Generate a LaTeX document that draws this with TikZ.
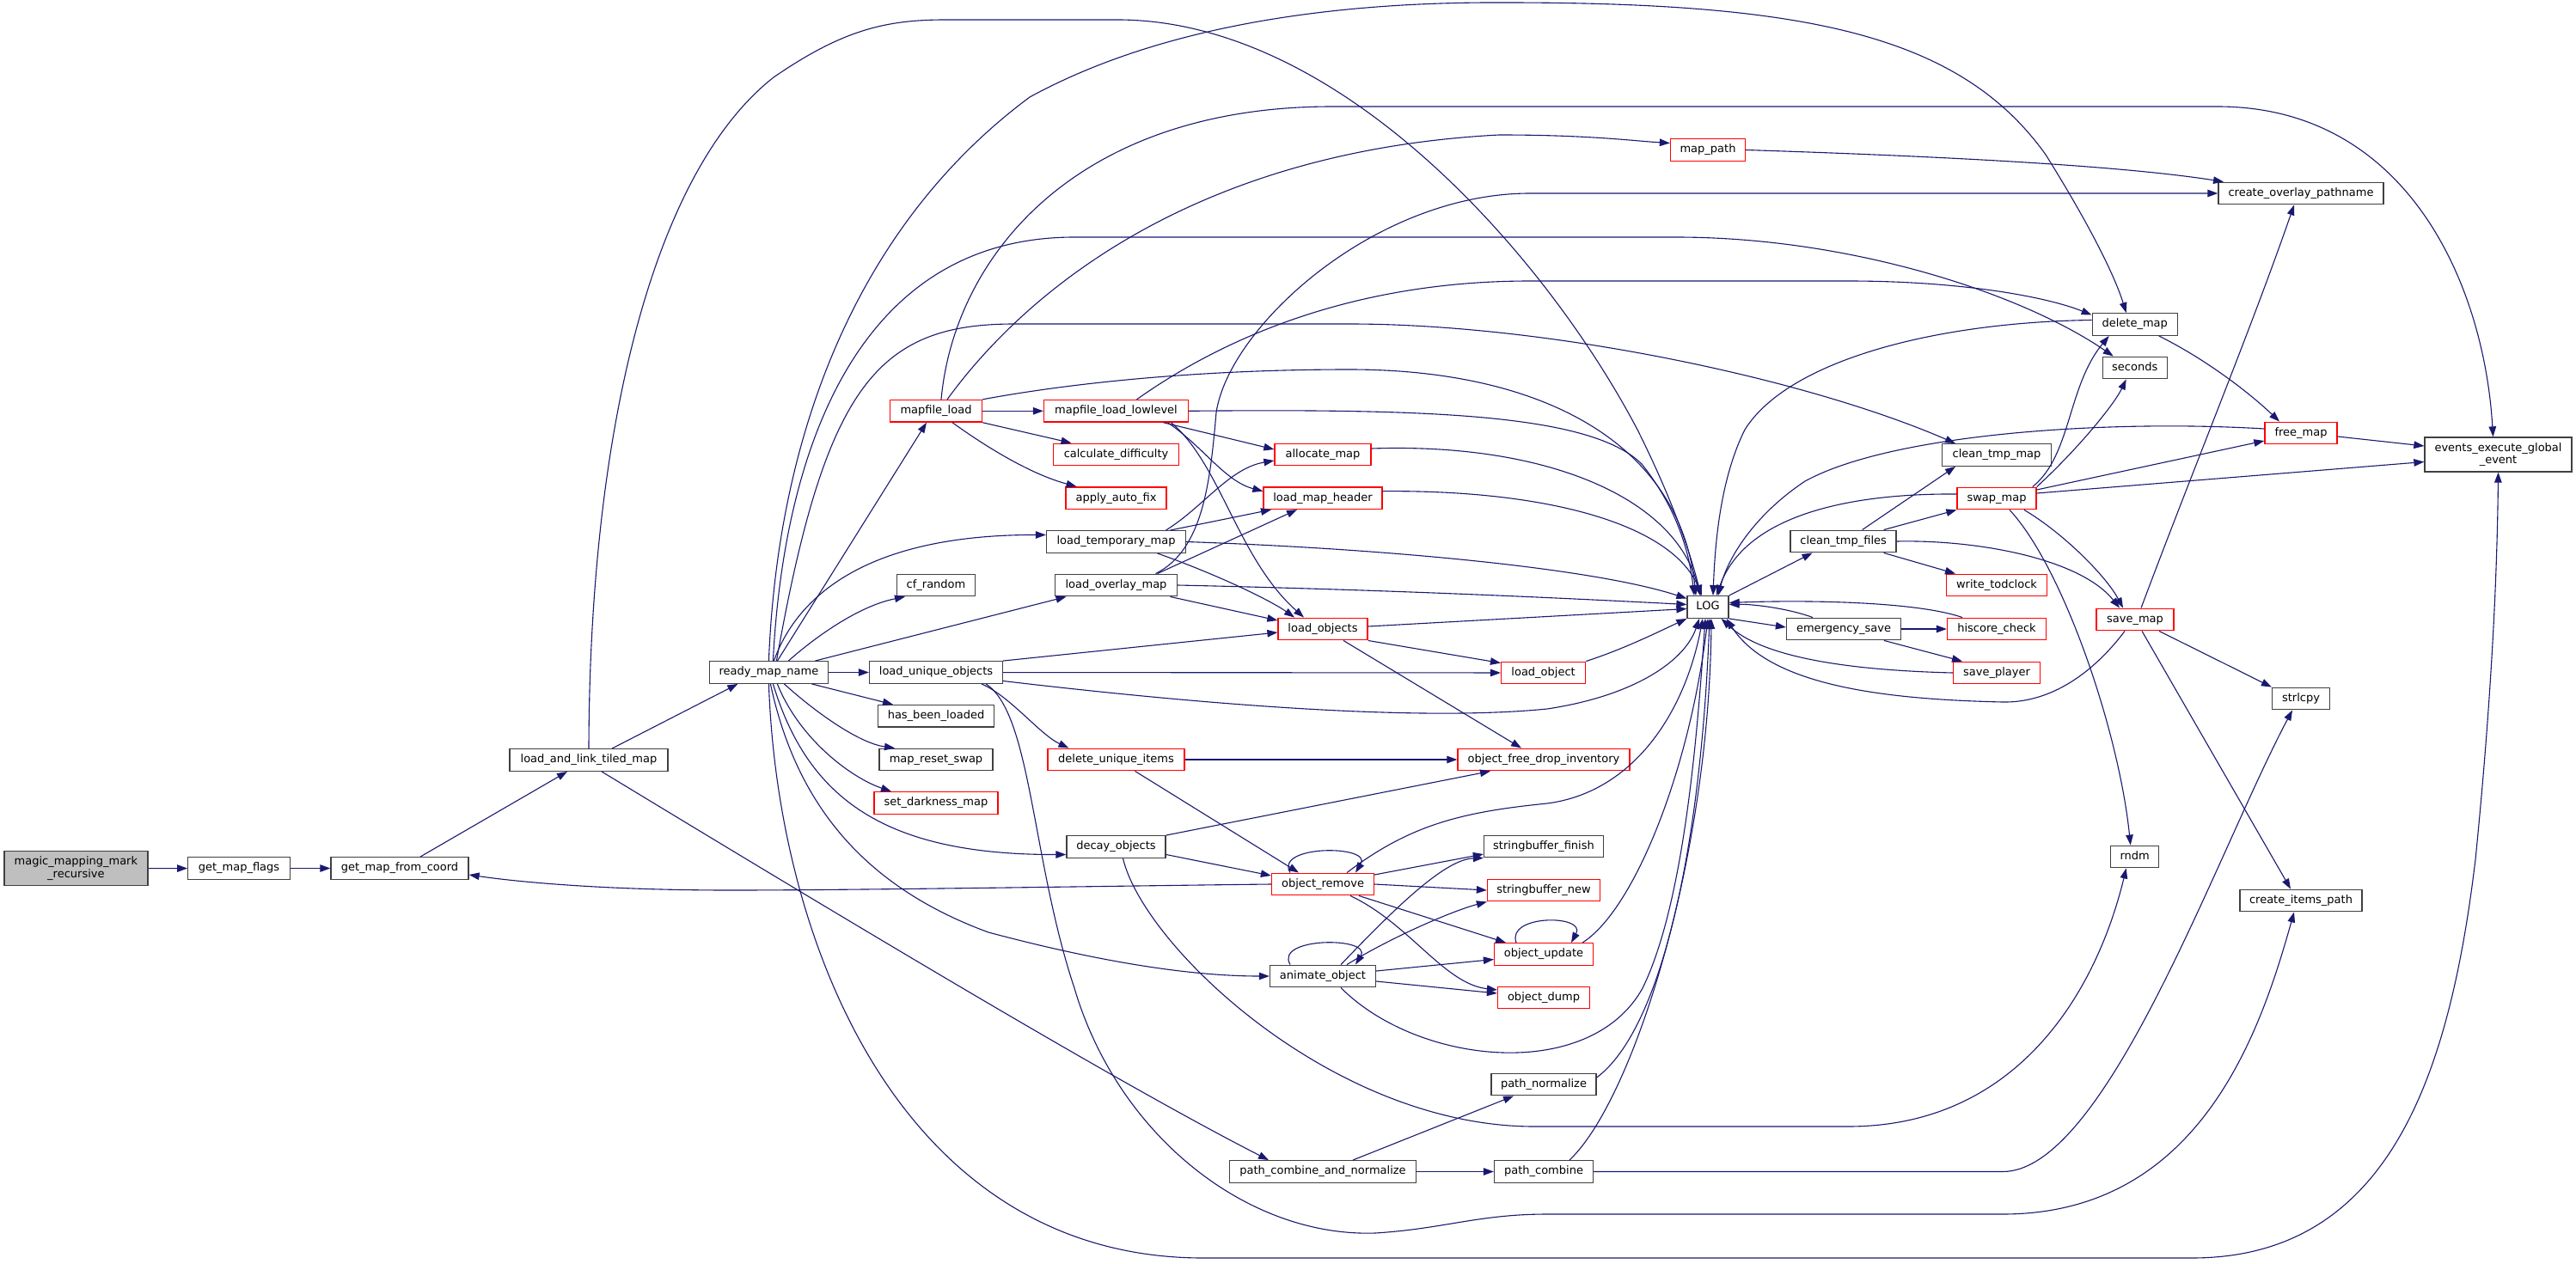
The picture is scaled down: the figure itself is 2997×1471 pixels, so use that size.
\documentclass[tikz,border=0pt]{standalone}
\usepackage{fontspec}
\setmainfont{DejaVu Sans}
\usetikzlibrary{arrows.meta}
\definecolor{edgeblue}{HTML}{191970}
\definecolor{rootgray}{HTML}{BFBFBF}
\definecolor{boxline}{HTML}{404040}
\tikzset{
  fn/.style={draw=boxline, line width=1.3pt, fill=white, inner sep=0pt, minimum height=25.6pt,
    font=\fontsize{13pt}{15pt}\selectfont, text height=9.6pt, text depth=3pt},
  fnred/.style={fn, draw=red},
  twoline/.style={draw=boxline, line width=1.3pt, inner sep=0pt, minimum height=40pt, align=center,
    font=\fontsize{13pt}{14.5pt}\selectfont},
  callarrow/.style={draw=edgeblue, line width=1.1pt, -{Triangle[length=12pt,width=8.5pt,fill=edgeblue]}}
}
\begin{document}
\begin{tikzpicture}[x=1pt,y=-1pt]
\fill[white] (0,0) rectangle (2997,1471);
\useasboundingbox (0,0) rectangle (2997,1471);
% nodes
\node[twoline, fill=rootgray, minimum width=167pt] (magic) at (88.4,1010.7) {magic\_mapping\_mark\\\_recursive};
\node[fn, minimum width=118.5pt] (gmf) at (278,1010.5) {get\_map\_flags};
\node[fn, minimum width=160pt] (gmfc) at (465,1010.5) {get\_map\_from\_coord};
\node[fn, minimum width=184pt] (lalt) at (685,884.5) {load\_and\_link\_tiled\_map};
\node[fn, minimum width=138pt] (rmn) at (894.4,782.5) {ready\_map\_name};
\node[fnred, minimum width=107pt] (ml) at (1089,478.3) {mapfile\_load};
\node[fn, minimum width=91pt] (cfr) at (1089,681) {cf\_random};
\node[fn, minimum width=155pt] (luo) at (1089,782.5) {load\_unique\_objects};
\node[fn, minimum width=135pt] (hbl) at (1089,833.3) {has\_been\_loaded};
\node[fn, minimum width=132pt] (mrs) at (1089,884) {map\_reset\_swap};
\node[fnred, minimum width=144pt] (sdm) at (1089,934.5) {set\_darkness\_map};
\node[fnred, minimum width=168pt] (mll) at (1298.5,478.3) {mapfile\_load\_lowlevel};
\node[fnred, minimum width=146pt] (cd) at (1298.5,529) {calculate\_difficulty};
\node[fnred, minimum width=117pt] (aaf) at (1298.5,579.7) {apply\_auto\_fix};
\node[fn, minimum width=162pt] (ltm) at (1298.5,630.5) {load\_temporary\_map};
\node[fn, minimum width=142pt] (lom) at (1298.5,681) {load\_overlay\_map};
\node[fnred, minimum width=159pt] (dui) at (1298.5,884) {delete\_unique\_items};
\node[fn, minimum width=115pt] (dec) at (1298.5,985.5) {decay\_objects};
\node[fnred, minimum width=87pt] (mp) at (1987,174.5) {map\_path};
\node[fnred, minimum width=112pt] (am) at (1539,529) {allocate\_map};
\node[fnred, minimum width=138pt] (lmh) at (1539,579.7) {load\_map\_header};
\node[fnred, minimum width=104pt] (lo) at (1539,732) {load\_objects};
\node[fnred, minimum width=119pt] (orem) at (1539,1029) {object\_remove};
\node[fn, minimum width=123pt] (anim) at (1539,1136) {animate\_object};
\node[fn, minimum width=217pt] (pcn) at (1539,1363.5) {path\_combine\_and\_normalize};
\node[fnred, minimum width=98pt] (lobj) at (1795.6,783) {load\_object};
\node[fnred, minimum width=200pt] (ofdi) at (1796,884) {object\_free\_drop\_inventory};
\node[fn, minimum width=139pt] (sbf) at (1796,985) {stringbuffer\_finish};
\node[fnred, minimum width=131pt] (sbn) at (1796,1036) {stringbuffer\_new};
\node[fnred, minimum width=115pt] (oupd) at (1796,1110.5) {object\_update};
\node[fnred, minimum width=107pt] (odump) at (1796,1161) {object\_dump};
\node[fn, minimum width=122pt] (pn) at (1796,1262) {path\_normalize};
\node[fn, minimum width=115pt] (pc) at (1796,1363.5) {path\_combine};
\node[fn, minimum width=48pt] (log) at (1987,706.5) {LOG};
\node[fn, minimum width=123pt] (ctf) at (2144.6,630) {clean\_tmp\_files};
\node[fn, minimum width=133pt] (es) at (2145,732) {emergency\_save};
\node[fn, minimum width=127pt] (ctm) at (2323,529.5) {clean\_tmp\_map};
\node[fnred, minimum width=92pt] (swap) at (2323,580) {swap\_map};
\node[fnred, minimum width=117pt] (wtc) at (2323,681) {write\_todclock};
\node[fnred, minimum width=115pt] (hc) at (2323,732) {hiscore\_check};
\node[fnred, minimum width=101pt] (sp) at (2323,783) {save\_player};
\node[fn, minimum width=99pt] (dm) at (2483.7,377.5) {delete\_map};
\node[fn, minimum width=75pt] (sec) at (2483.7,428) {seconds};
\node[fnred, minimum width=90pt] (smap) at (2484,721) {save\_map};
\node[fn, minimum width=56pt] (rndm) at (2483.7,997) {rndm};
\node[fn, minimum width=192pt] (cop) at (2677,225) {create\_overlay\_pathname};
\node[fnred, minimum width=84pt] (free) at (2677,504) {free\_map};
\node[fn, minimum width=67pt] (strl) at (2677,813) {strlcpy};
\node[fn, minimum width=142pt] (cip) at (2677,1048) {create\_items\_path};
\node[twoline, fill=white, minimum width=171pt] (ev) at (2906.5,529) {events\_execute\_global\\\_event};
% edges
\draw[callarrow] (magic) -- (gmf);
\draw[callarrow] (gmf) -- (gmfc);
\draw[callarrow] ([xshift=24pt]gmfc.north) -- ([xshift=-25pt]lalt.south);
\draw[callarrow] ([xshift=27pt]lalt.north) -- ([xshift=-36pt]rmn.south);
\draw[callarrow] (lalt.north) .. controls (686,500) and (760,200) .. (900,90) .. controls (980,35) and (1030,23) .. (1100,23) -- (1300,23) .. controls (1560,23) and (1800,300) .. (1905,500) .. controls (1950,590) and (1968,650) .. ([xshift=-8pt]log.north);
\draw[callarrow] ([xshift=15pt]lalt.south) .. controls (1000,1080) and (1300,1260) .. ([xshift=-63pt]pcn.north);
% ready_map_name
\draw[callarrow] ([xshift=10pt]rmn.north) -- ([xshift=-11pt]ml.south);
\draw[callarrow] ([xshift=23pt]rmn.north) .. controls (950,740) and (1000,705) .. ([xshift=-36pt]cfr.south);
\draw[callarrow] ([xshift=6pt]rmn.north) .. controls (925,700) and (1000,622) .. ([yshift=8pt]ltm.west);
\draw[callarrow] ([xshift=54pt]rmn.north) -- ([xshift=-58pt]lom.south);
\draw[callarrow] (rmn) -- (luo);
\draw[callarrow] ([xshift=50pt]rmn.south) -- ([xshift=-50pt]hbl.north);
\draw[callarrow] ([xshift=18pt]rmn.south) .. controls (950,830) and (1000,865) .. ([xshift=-48pt]mrs.north);
\draw[callarrow] ([xshift=10pt]rmn.south) .. controls (930,860) and (990,905) .. ([xshift=-52pt]sdm.north);
\draw[callarrow] ([xshift=5pt]rmn.south) .. controls (940,930) and (1030,995) .. ([yshift=-9pt]dec.west);
\draw[callarrow] ([xshift=2pt]rmn.south) .. controls (925,930) and (1000,1030) .. (1150,1085) .. controls (1300,1125) and (1400,1136) .. (anim.west);
\draw[callarrow] (rmn.south) .. controls (905,1100) and (1050,1464) .. (1400,1464) -- (2550,1464) .. controls (2780,1464) and (2850,1250) .. (2880,1000) .. controls (2895,850) and (2905,700) .. (ev.south);
\draw[callarrow] (rmn.north) .. controls (905,500) and (1000,260) .. (1198,113) .. controls (1350,30) and (1550,2) .. (1750,3) .. controls (2100,3) and (2280,40) .. (2380,180) .. controls (2430,260) and (2460,320) .. ([xshift=-10pt]dm.north);
\draw[callarrow] ([xshift=5pt]rmn.north) .. controls (912,520) and (1000,276) .. (1250,276) -- (1950,276) .. controls (2150,276) and (2350,340) .. ([xshift=-25pt]sec.north);
\draw[callarrow] ([xshift=9pt]rmn.north) .. controls (960,450) and (1020,377) .. (1180,377) -- (1570,377) .. controls (1800,377) and (2100,440) .. ([xshift=-48pt]ctm.north);
% mapfile_load
\draw[callarrow] (ml) -- (mll);
\draw[callarrow] (ml.south east) -- ([xshift=-52pt]cd.north);
\draw[callarrow] ([xshift=19pt]ml.south) .. controls (1150,522) and (1200,552) .. ([xshift=-46pt]aaf.north);
\draw[callarrow] ([xshift=13pt]ml.north) .. controls (1200,330) and (1400,175) .. (1744,157) .. controls (1850,157) and (1900,164) .. ([yshift=8pt]mp.west);
\draw[callarrow] ([xshift=6pt]ml.north) .. controls (1110,300) and (1250,124) .. (1550,124) -- (2580,124) .. controls (2800,124) and (2890,330) .. ([xshift=-6pt]ev.north);
\draw[callarrow] (ml.north east) .. controls (1250,445) and (1400,430) .. (1570,430) .. controls (1800,430) and (1955,520) .. ([xshift=-14pt]log.north);
% mapfile_load_lowlevel
\draw[callarrow] (mll.east) .. controls (1650,476) and (1850,480) .. (1910,540) .. controls (1950,590) and (1965,640) .. ([xshift=-16pt]log.north);
\draw[callarrow] ([xshift=24pt]mll.north) .. controls (1400,410) and (1550,327) .. (1780,327) -- (2150,327) .. controls (2280,327) and (2380,345) .. ([yshift=11pt]dm.west);
\draw[callarrow] ([xshift=55pt]mll.south) -- ([yshift=6pt]am.west);
\draw[callarrow] ([xshift=60pt]mll.south) .. controls (1400,520) and (1425,560) .. ([yshift=8pt]lmh.west);
\draw[callarrow] ([xshift=64pt]mll.south) .. controls (1420,540) and (1440,650) .. ([xshift=-22pt]lo.north);
% load_temporary_map
\draw[callarrow] ([xshift=58pt]ltm.north) .. controls (1400,590) and (1430,545) .. ([yshift=-7pt]am.west);
\draw[callarrow] ([xshift=63pt]ltm.north) -- ([xshift=-60pt]lmh.south);
\draw[callarrow] (ltm.east) .. controls (1600,638) and (1850,660) .. ([yshift=10pt]log.west);
\draw[callarrow] ([xshift=48pt]ltm.south) .. controls (1420,670) and (1480,700) .. ([xshift=-33pt]lo.north);
% load_overlay_map
\draw[callarrow] ([xshift=48pt]lom.north) -- ([xshift=-30pt]lmh.south);
\draw[callarrow] (lom.east) .. controls (1600,686) and (1800,695) .. ([yshift=3pt]log.west);
\draw[callarrow] ([xshift=63pt]lom.south) -- ([yshift=10pt]lo.west);
\draw[callarrow] ([xshift=46pt]lom.north) .. controls (1400,640) and (1408,560) .. (1415,480) .. controls (1430,380) and (1600,225) .. (1780,225) -- (cop.west);
% load_unique_objects
\draw[callarrow] (luo.north east) -- ([yshift=-4pt]lo.west);
\draw[callarrow] (luo) -- (lobj);
\draw[callarrow] ([yshift=-10pt]luo.east) .. controls (1400,820) and (1650,840) .. (1800,825) .. controls (1900,810) and (1960,770) .. ([xshift=-10pt]log.south);
\draw[callarrow] ([xshift=53pt]luo.south) .. controls (1175,810) and (1210,855) .. ([xshift=-55pt]dui.north);
\draw[callarrow] ([xshift=58pt]luo.south) .. controls (1200,830) and (1200,1000) .. (1250,1150) .. controls (1300,1320) and (1450,1440) .. (1600,1435) .. controls (1680,1430) and (1720,1413) .. (1800,1413) -- (2330,1413) .. controls (2560,1413) and (2630,1200) .. ([xshift=-8pt]cip.south);
% load_objects, load_object, allocate_map, load_map_header
\draw[callarrow] ([yshift=3pt]lo.east) -- ([yshift=-2pt]log.west);
\draw[callarrow] (lo.south east) -- ([yshift=-2pt]lobj.north west);
\draw[callarrow] ([xshift=24pt]lo.south) -- ([xshift=-26pt]ofdi.north);
\draw[callarrow] (lobj.north east) .. controls (1890,755) and (1930,735) .. (log.south west);
\draw[callarrow] ([yshift=7pt]am.east) .. controls (1800,515) and (1950,580) .. ([xshift=-9pt]log.north);
\draw[callarrow] ([yshift=8pt]lmh.east) .. controls (1800,570) and (1945,610) .. ([xshift=-7pt]log.north);
% delete_unique_items, decay_objects
\draw[callarrow] (dui) -- (ofdi);
\draw[callarrow] ([xshift=22pt]dui.south) -- ([xshift=-28pt]orem.north);
\draw[callarrow] (dec.north east) -- ([xshift=-62pt]ofdi.south);
\draw[callarrow] ([yshift=-9pt]dec.east) -- ([yshift=10pt]orem.west);
\draw[callarrow] ([xshift=8pt]dec.south) .. controls (1330,1100) and (1550,1311) .. (1785,1311) -- (2150,1311) .. controls (2350,1311) and (2440,1150) .. ([xshift=-10pt]rndm.south);
% object_remove
\draw[callarrow] ([xshift=-38pt]orem.north) .. controls (1482,983) and (1597,983) .. ([xshift=38pt]orem.north);
\draw[callarrow] (orem.west) .. controls (1300,1031) and (1000,1036) .. (850,1036) .. controls (700,1036) and (600,1026) .. ([yshift=-7.5pt]gmfc.east);
\draw[callarrow] ([xshift=28pt]orem.north) .. controls (1640,960) and (1700,945) .. (1800,935) .. controls (1900,922) and (1960,830) .. ([xshift=-6pt]log.south);
\draw[callarrow] ([yshift=11pt]orem.east) -- ([yshift=-9pt]sbf.west);
\draw[callarrow] (orem.east) -- (sbn.west);
\draw[callarrow] ([xshift=42pt]orem.south) -- ([xshift=-44pt]oupd.north);
\draw[callarrow] ([xshift=32pt]orem.south) .. controls (1640,1075) and (1680,1145) .. ([yshift=9pt]odump.west);
% animate_object
\draw[callarrow] ([xshift=-38pt]anim.north) .. controls (1482,1090) and (1597,1090) .. ([xshift=38pt]anim.north);
\draw[callarrow] ([xshift=21pt]anim.north) .. controls (1620,1060) and (1680,1000) .. (sbf.south west);
\draw[callarrow] ([xshift=28pt]anim.north) .. controls (1620,1090) and (1690,1060) .. (sbn.south west);
\draw[callarrow] ([yshift=6pt]anim.east) -- ([yshift=-6pt]oupd.west);
\draw[callarrow] ([yshift=-6pt]anim.east) -- ([yshift=5pt]odump.west);
\draw[callarrow] ([xshift=21pt]anim.south) .. controls (1650,1240) and (1850,1260) .. (1911,1150) .. controls (1960,1050) and (1975,850) .. ([xshift=-3pt]log.south);
% object_update, path functions
\draw[callarrow] ([xshift=-32pt]oupd.north) .. controls (1752,1064) and (1846,1064) .. ([xshift=32pt]oupd.north);
\draw[callarrow] ([xshift=45pt]oupd.north) .. controls (1900,1060) and (1965,900) .. (log.south);
\draw[callarrow] ([yshift=8pt]pn.east) .. controls (1930,1200) and (1978,1000) .. ([xshift=2pt]log.south);
\draw[callarrow] ([xshift=30pt]pc.north) .. controls (1900,1280) and (1988,1000) .. ([xshift=4pt]log.south);
\draw[callarrow] ([xshift=35pt]pcn.north) -- ([xshift=-35pt]pn.south);
\draw[callarrow] (pcn) -- (pc);
\draw[callarrow] (pc.east) -- (2330,1363.5) .. controls (2450,1363.5) and (2580,990) .. ([xshift=-10pt]strl.south);
\draw[callarrow] (mp.east) .. controls (2200,180) and (2450,190) .. ([xshift=-90pt]cop.north);
% LOG and its callees
\draw[callarrow] (log.north east) -- ([xshift=-36pt]ctf.south);
\draw[callarrow] (log.south east) -- ([yshift=2pt]es.west);
\draw[callarrow] ([xshift=-36pt]es.north) .. controls (2080,708) and (2040,703) .. ([yshift=3pt]log.east);
\draw[callarrow] ([xshift=-40pt]hc.north) .. controls (2230,700) and (2100,698) .. ([yshift=5pt]log.east);
\draw[callarrow] (es) -- (hc);
\draw[callarrow] ([xshift=47pt]es.south) -- ([xshift=-40pt]sp.north);
\draw[callarrow] (sp.west) .. controls (2150,780) and (2050,765) .. ([xshift=-9pt]log.south east);
\draw[callarrow] ([xshift=-12pt]smap.south) .. controls (2430,790) and (2380,818) .. (2330,817) .. controls (2200,814) and (2060,800) .. ([xshift=-3pt]log.south east);
% clean_tmp_files
\draw[callarrow] ([xshift=22pt]ctf.north) -- ([xshift=-48pt]ctm.south);
\draw[callarrow] ([xshift=47pt]ctf.north) -- (swap.south west);
\draw[callarrow] ([xshift=47pt]ctf.south) -- ([xshift=-48pt]wtc.north);
\draw[callarrow] (ctf.east) .. controls (2300,628) and (2420,650) .. ([xshift=-18pt]smap.north);
% swap_map
\draw[callarrow] ([yshift=5pt]swap.west) .. controls (2150,574) and (2030,600) .. ([xshift=10pt]log.north);
\draw[callarrow] ([xshift=-5pt]swap.north east) .. controls (2410,530) and (2405,450) .. ([xshift=-30pt]dm.south);
\draw[callarrow] (swap.north east) .. controls (2420,520) and (2460,470) .. ([xshift=-10pt]sec.south);
\draw[callarrow] ([yshift=10pt]swap.east) -- ([yshift=-9pt]free.west);
\draw[callarrow] ([yshift=6pt]swap.east) -- ([yshift=-8.5pt]ev.west);
\draw[callarrow] ([xshift=32pt]swap.south) .. controls (2400,620) and (2450,670) .. ([xshift=-14pt]smap.north);
\draw[callarrow] ([xshift=15pt]swap.south) .. controls (2400,660) and (2465,850) .. ([xshift=-5pt]rndm.north);
% save_map
\draw[callarrow] ([xshift=7pt]smap.north) .. controls (2550,550) and (2620,380) .. ([xshift=-8pt]cop.south);
\draw[callarrow] ([xshift=28pt]smap.south) -- (strl.north west);
\draw[callarrow] ([xshift=8pt]smap.south) -- ([xshift=-12pt]cip.north);
% delete_map, free_map
\draw[callarrow] ([yshift=5pt]dm.west) .. controls (2250,375) and (2080,420) .. (2030,500) .. controls (2000,560) and (1995,640) .. ([xshift=6pt]log.north);
\draw[callarrow] ([xshift=28pt]dm.south) .. controls (2570,420) and (2620,460) .. ([xshift=-25pt]free.north);
\draw[callarrow] ([yshift=5pt]free.west) .. controls (2450,488) and (2200,505) .. (2100,560) .. controls (2040,600) and (2010,650) .. ([xshift=12pt]log.north);
\draw[callarrow] ([yshift=-4pt]free.east) -- ([yshift=10pt]ev.west);
\end{tikzpicture}
\end{document}
